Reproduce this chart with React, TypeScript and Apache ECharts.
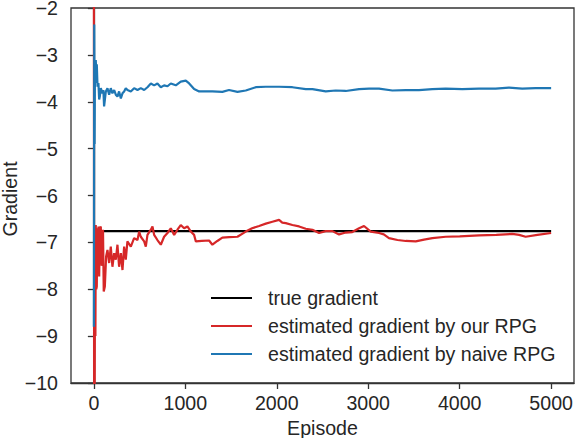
import React, { useEffect, useRef } from "react";
import * as echarts from "echarts";

const xTickValues = [0, 1000, 2000, 3000, 4000, 5000];
const trueGradient: [number, number][] = [[0, -6.76], [5000, -6.76]];

const ourRpg: [number, number][] = [
  [0, -1.0], [3, -11], [6, -8.9], [9, -10.5], [13, -7.0], [17, -9.0], [21, -6.63], [26, -8.0],
  [32, -7.94], [38, -6.7], [44, -7.6], [50, -6.66], [58, -7.73], [66, -6.7], [76, -6.66], [85, -7.5],
  [94, -7.37], [100, -6.73], [108, -8.05], [120, -7.94], [134, -7.3], [149, -7.16], [167, -7.44],
  [185, -7.09], [203, -7.52], [222, -7.23], [240, -7.37], [258, -7.05], [276, -7.52], [295, -7.23],
  [313, -7.59], [331, -7.09], [349, -7.37], [367, -6.98], [404, -7.09], [440, -6.91], [477, -6.95],
  [495, -6.77], [513, -6.88], [550, -6.98], [568, -7.09], [586, -6.84], [623, -6.73], [641, -6.66],
  [659, -6.84], [695, -6.95], [732, -7.05], [768, -6.88], [805, -6.8], [841, -6.7], [878, -6.84],
  [914, -6.73], [950, -6.63], [987, -6.7], [1023, -6.66], [1060, -6.77], [1096, -6.84], [1115, -6.98],
  [1180, -6.97], [1260, -6.96], [1296, -7.05], [1350, -6.97], [1405, -6.9], [1480, -6.89], [1570, -6.88],
  [1661, -6.77], [1730, -6.7], [1807, -6.65], [1880, -6.6], [1952, -6.56], [2025, -6.52], [2060, -6.58],
  [2098, -6.59], [2171, -6.63], [2244, -6.66], [2317, -6.71], [2390, -6.73], [2462, -6.8], [2535, -6.76],
  [2608, -6.76], [2681, -6.83], [2754, -6.79], [2826, -6.78], [2900, -6.7], [2954, -6.65], [3027, -6.77],
  [3118, -6.8], [3170, -6.83], [3227, -6.91], [3320, -6.95], [3410, -6.97], [3519, -6.98], [3610, -6.94],
  [3701, -6.91], [3847, -6.88], [4000, -6.87], [4211, -6.85], [4400, -6.84], [4575, -6.82], [4650, -6.84],
  [4721, -6.88], [4850, -6.84], [5000, -6.8],
];

const naiveRpg: [number, number][] = [
  [0, -8.8], [4, -2.35], [8, -4.9], [12, -3.3], [16, -3.6], [21, -3.11], [27, -3.5], [32, -3.2],
  [40, -3.68], [50, -3.6], [58, -3.95], [65, -3.89], [76, -3.71], [94, -3.82], [104, -3.75], [112, -4.1],
  [131, -3.78], [149, -3.71], [167, -3.85], [185, -3.71], [203, -3.82], [222, -3.75], [240, -3.85],
  [258, -3.89], [276, -3.78], [295, -3.93], [313, -3.82], [331, -3.78], [349, -3.71], [367, -3.75],
  [404, -3.78], [440, -3.71], [477, -3.75], [513, -3.71], [550, -3.75], [586, -3.69], [623, -3.61],
  [659, -3.65], [695, -3.61], [732, -3.69], [768, -3.65], [805, -3.67], [841, -3.61], [896, -3.65],
  [950, -3.57], [1005, -3.55], [1042, -3.61], [1096, -3.73], [1151, -3.78], [1296, -3.78], [1405, -3.79],
  [1478, -3.75], [1570, -3.79], [1661, -3.76], [1770, -3.69], [1880, -3.68], [2025, -3.68], [2171, -3.69],
  [2317, -3.73], [2390, -3.73], [2535, -3.78], [2644, -3.76], [2754, -3.77], [2900, -3.73], [3009, -3.72],
  [3118, -3.72], [3264, -3.76], [3410, -3.75], [3555, -3.75], [3701, -3.73], [3847, -3.72], [4029, -3.73],
  [4211, -3.72], [4393, -3.72], [4539, -3.7], [4684, -3.72], [4830, -3.71], [5000, -3.71],
];

const seriesNames = ["true gradient", "estimated gradient by our RPG", "estimated gradient by naive RPG"];
const yAxisTitle = "Gradient";

const FONT = "'Liberation Sans', Arial, Helvetica, sans-serif";
const FS = 19.6;
const TEXT = "#262626";
const AXIS = "#333333";
const LW = 2.2;

const minusFmt = (v: number) => (v < 0 ? "\u2212" + Math.abs(v) : String(v));

export default function App() {
  const ref = useRef<HTMLDivElement>(null);
  useEffect(() => {
    if (!ref.current) return;
    const chart = echarts.init(ref.current, undefined, { renderer: "svg" });
    chart.setOption({
      animation: false,
      backgroundColor: "#ffffff",
      textStyle: { fontFamily: FONT },
      grid: {
        left: 71, right: 4, top: 8, bottom: 55, containLabel: false, outerBoundsMode: "none",
        show: true, borderColor: AXIS, borderWidth: 1.3, backgroundColor: "transparent",
      },
      graphic: [
        {
          type: "text", x: 10, y: 199, rotation: Math.PI / 2,
          style: {
            text: yAxisTitle, fontSize: FS, fontFamily: FONT, fill: TEXT,
            align: "center", verticalAlign: "middle",
          },
        },
      ],
      legend: {
        orient: "vertical", left: 211, top: 288, padding: 0,
        icon: "rect",
        itemWidth: 41, itemHeight: 2, itemGap: 8,
        data: seriesNames,
        textStyle: { fontSize: FS, color: TEXT, fontFamily: FONT, padding: [0, 0, 0, 11] },
      },
      xAxis: {
        type: "value", min: -250, max: 5250,
        name: "Episode", nameLocation: "middle", nameGap: 34,
        nameTextStyle: { fontSize: FS, color: TEXT, fontFamily: FONT, lineHeight: 18 },
        axisLine: { show: true, lineStyle: { color: AXIS, width: 1.3 } },
        axisTick: { show: true, length: 6, lineStyle: { color: AXIS, width: 1.3 }, customValues: xTickValues },
        axisLabel: {
          fontSize: FS, color: TEXT, margin: 10, fontFamily: FONT, customValues: xTickValues,
          formatter: (v: number) => String(v),
        },
        splitLine: { show: false },
      },
      yAxis: {
        type: "value", min: -10, max: -2, interval: 1,
        axisLine: { show: true, lineStyle: { color: AXIS, width: 1.3 } },
        axisTick: { show: true, length: 6, lineStyle: { color: AXIS, width: 1.3 } },
        axisLabel: { fontSize: FS, color: TEXT, margin: 13, fontFamily: FONT, lineHeight: 16, formatter: minusFmt },
        splitLine: { show: false },
      },
      series: [
        {
          name: seriesNames[0], type: "line", data: trueGradient, symbol: "none",
          lineStyle: { color: "#000000", width: LW }, itemStyle: { color: "#000000" },
        },
        {
          name: seriesNames[1], type: "line", data: ourRpg, symbol: "none",
          lineStyle: { color: "#d62728", width: LW }, itemStyle: { color: "#d62728" },
        },
        {
          name: seriesNames[2], type: "line", data: naiveRpg, symbol: "none",
          lineStyle: { color: "#1f77b4", width: LW }, itemStyle: { color: "#1f77b4" },
        },
      ],
    });
    return () => chart.dispose();
  }, []);
  return (
    <div
      ref={ref}
      style={{ position: "fixed", left: 0, top: 0, width: 578, height: 438, background: "#fff" }}
    />
  );
}
